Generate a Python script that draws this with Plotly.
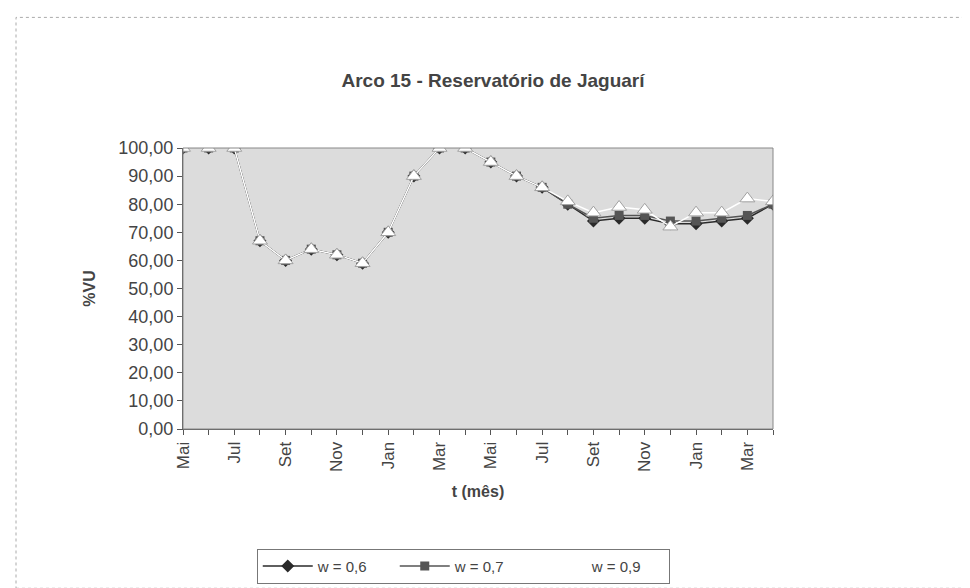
import plotly.graph_objects as go

# Data
month_labels = ["Mai", "Jun", "Jul", "Ago", "Set", "Out", "Nov", "Dez", "Jan", "Fev", "Mar", "Abr",
                "Mai", "Jun", "Jul", "Ago", "Set", "Out", "Nov", "Dez", "Jan", "Fev", "Mar", "Abr"]
w06 = [100, 100, 100, 67, 60, 64, 62, 59, 70, 90, 100, 100, 95, 90, 86, 80, 74, 75, 75, 73, 73, 74, 75, 80]
w07 = [100, 100, 100, 67, 60, 64, 62, 59, 70, 90, 100, 100, 95, 90, 86, 80, 75, 76, 76, 74, 74, 75, 76, 80]
w09 = [100, 100, 100, 67, 60, 64, 62, 59, 70, 90, 100, 100, 95, 90, 86, 81, 77, 79, 78, 72, 77, 77, 82, 81]
y_ticks = [0, 10, 20, 30, 40, 50, 60, 70, 80, 90, 100]

x = list(range(len(month_labels)))
shown_idx = x[::2]
shown_labels = month_labels[::2]

font_family = "Liberation Sans, Arial, sans-serif"

fig = go.Figure()
fig.add_trace(go.Scatter(
    x=x, y=w06, mode="lines+markers", name="w = 0,6",
    line=dict(color="#2a2a2a", width=1.5),
    marker=dict(symbol="diamond", size=10, color="#2a2a2a"),
))
fig.add_trace(go.Scatter(
    x=x, y=w07, mode="lines+markers", name="w = 0,7",
    line=dict(color="#555555", width=1.5),
    marker=dict(symbol="square", size=9, color="#555555"),
))
fig.add_trace(go.Scatter(
    x=x, y=w09, mode="lines+markers", name="w = 0,9", showlegend=False,
    line=dict(color="#ffffff", width=1.5),
    marker=dict(symbol="triangle-up", size=13, color="#ffffff",
                line=dict(color="#a0a0a0", width=1)),
))
# legend entry for w = 0,9 (white on white, as in the original)
fig.add_trace(go.Scatter(
    x=[None], y=[None], mode="lines+markers", name="w = 0,9",
    line=dict(color="#ffffff", width=1.5),
    marker=dict(symbol="triangle-up", size=13, color="#ffffff"),
))

fig.update_layout(
    width=970, height=588,
    margin=dict(l=175, r=205, t=140, b=164),
    paper_bgcolor="white",
    plot_bgcolor="#dcdcdc",
    separators=",.",
    font=dict(family=font_family, color="#333333", size=13),
    title=dict(text="<b>Arco 15 - Reservatório de Jaguarí</b>", x=0.5, xanchor="center",
               y=1 - 72 / 588, yanchor="middle",
               font=dict(size=19, color="#444444", family=font_family)),
    showlegend=True,
    legend=dict(orientation="h", x=0.475, xanchor="center", y=-0.426, yanchor="top",
                bordercolor="#777777", borderwidth=1, bgcolor="white",
                font=dict(size=15, color="#444444"), itemwidth=50,
                entrywidth=72, entrywidthmode="pixels"),
)

fig.update_xaxes(
    range=[0, len(x) - 1],
    tickmode="array", tickvals=shown_idx, ticktext=shown_labels,
    tickangle=-90, ticks="outside", ticklen=5, tickcolor="#555555",
    minor=dict(ticks="outside", ticklen=5, tickcolor="#555555", dtick=1, tick0=0, showgrid=False),
    showline=True, linecolor="#555555", linewidth=1, mirror=False,
    showgrid=False, zeroline=False,
    tickfont=dict(size=17, color="#444444"),
    title=dict(text="<b>t (mês)</b>", font=dict(size=16, color="#444444"), standoff=14),
)
fig.update_yaxes(
    range=[0, 100],
    tickmode="array", tickvals=y_ticks, tickformat=".2f",
    ticks="outside", ticklen=5, tickcolor="#555555",
    showline=True, linecolor="#555555", linewidth=1,
    showgrid=False, zeroline=False,
    tickfont=dict(size=18, color="#444444"),
    title=dict(text="<b>%VU</b>", font=dict(size=16, color="#444444"), standoff=18),
)

# plot-area border and outer chart border
fig.add_shape(type="rect", xref="paper", yref="paper", x0=0, x1=1, y0=0, y1=1,
              line=dict(color="#888888", width=1))
fig.add_shape(type="rect", xref="paper", yref="paper",
              x0=(8 - 175) / 590, x1=(962 - 175) / 590,
              y0=(424 - 585) / 284, y1=(424 - 8) / 284,
              line=dict(color="#aaaaaa", width=1, dash="dot"))

fig.write_html("out.html")
